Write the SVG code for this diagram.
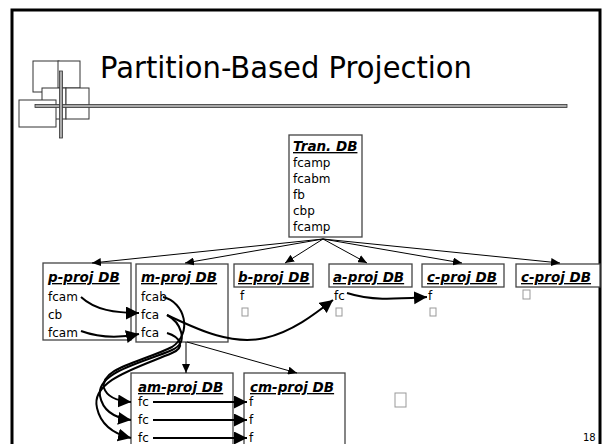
<svg xmlns="http://www.w3.org/2000/svg" width="608" height="444" viewBox="0 0 608 444">
<defs>
<style>
.t{font-family:"DejaVu Sans",Verdana,sans-serif;font-size:12px;fill:#000}
.h{font-family:"DejaVu Sans",Verdana,sans-serif;font-size:13.5px;font-weight:bold;font-style:italic;text-decoration:underline;fill:#000}
.box{fill:#fff;stroke:#444;stroke-width:1.3}
.thin{fill:none;stroke:#000;stroke-width:1}
.thick{fill:none;stroke:#000;stroke-width:2}
.tofu{fill:none;stroke:#999;stroke-width:1}
.sq{fill:#fff;stroke:#333;stroke-width:1}
.bar{fill:#aaa;stroke:#333;stroke-width:0.8}
</style>
<marker id="sa" markerUnits="userSpaceOnUse" markerWidth="10" markerHeight="8" refX="9" refY="4" orient="auto"><path d="M0,0 L9,4 L0,8 z" fill="#000"/></marker>
<marker id="ba" markerUnits="userSpaceOnUse" markerWidth="14" markerHeight="14" refX="13" refY="6.5" orient="auto"><path d="M0,0 L13,6.5 L0,13 z" fill="#000"/></marker>
</defs>
<rect x="0" y="0" width="608" height="444" fill="#fff"/>
<rect x="12" y="10" width="588" height="460" fill="none" stroke="#000" stroke-width="3"/>
<g id="logo">
<rect class="sq" x="33" y="61" width="26" height="31"/>
<rect class="sq" x="58" y="61" width="22" height="27"/>
<rect class="sq" x="42" y="88" width="24" height="31"/>
<rect class="sq" x="66" y="88" width="23" height="31"/>
<rect class="sq" x="19" y="100" width="37" height="27"/>
<rect class="bar" x="35" y="104.5" width="532" height="3"/>
<rect class="bar" x="59.5" y="71" width="3" height="67"/>
</g>
<text x="100" y="78" font-family="DejaVu Sans,Verdana,sans-serif" font-size="30" textLength="372" lengthAdjust="spacingAndGlyphs">Partition-Based Projection</text>
<g id="tran">
<rect class="box" x="289" y="135" width="73" height="102"/>
<text class="h" x="293" y="151">Tran. DB</text>
<text class="t" x="293" y="167">fcamp</text>
<text class="t" x="293" y="183">fcabm</text>
<text class="t" x="293" y="199">fb</text>
<text class="t" x="293" y="215">cbp</text>
<text class="t" x="293" y="231">fcamp</text>
</g>
<g id="pproj">
<rect class="box" x="43" y="263" width="88" height="77"/>
<text class="h" x="48" y="282">p-proj DB</text>
<text class="t" x="48" y="301">fcam</text>
<text class="t" x="48" y="319">cb</text>
<text class="t" x="48" y="337">fcam</text>
</g>
<g id="mproj">
<rect class="box" x="136" y="264" width="92" height="78"/>
<text class="h" x="141" y="282">m-proj DB</text>
<text class="t" x="141" y="301">fcab</text>
<text class="t" x="141" y="319">fca</text>
<text class="t" x="141" y="337">fca</text>
</g>
<g id="bproj">
<rect class="box" x="234" y="264" width="79" height="23"/>
<text class="h" x="238" y="282">b-proj DB</text>
<text class="t" x="240" y="300">f</text>
<rect class="tofu" x="242" y="308" width="6" height="8"/>
</g>
<g id="aproj">
<rect class="box" x="329" y="264" width="83" height="23"/>
<text class="h" x="333" y="282">a-proj DB</text>
<text class="t" x="334" y="300">fc</text>
<rect class="tofu" x="336" y="308" width="6" height="8"/>
</g>
<g id="cproj1">
<rect class="box" x="422" y="264" width="82" height="23"/>
<text class="h" x="427" y="282">c-proj DB</text>
<text class="t" x="428" y="300">f</text>
<rect class="tofu" x="430" y="308" width="6" height="8"/>
</g>
<g id="cproj2">
<rect class="box" x="516" y="264" width="84" height="23"/>
<text class="h" x="521" y="282">c-proj DB</text>
<rect class="tofu" x="523" y="290" width="7" height="9"/>
</g>
<g id="amproj">
<rect class="box" x="131" y="373" width="102" height="80"/>
<text class="h" x="138" y="392">am-proj DB</text>
<text class="t" x="138" y="406">fc</text>
<text class="t" x="138" y="424">fc</text>
<text class="t" x="138" y="442">fc</text>
</g>
<g id="cmproj">
<rect class="box" x="244" y="373" width="101" height="80"/>
<text class="h" x="250" y="392">cm-proj DB</text>
<text class="t" x="249" y="406">f</text>
<text class="t" x="249" y="424">f</text>
<text class="t" x="249" y="442">f</text>
</g>
<rect class="tofu" x="395" y="393" width="11" height="14"/>
<text x="583" y="441" font-family="DejaVu Sans,sans-serif" font-size="10">18</text>
<g id="connectors">
<path class="thin" d="M323,239 L92,263" marker-end="url(#sa)"/>
<path class="thin" d="M323,239 L185,263" marker-end="url(#sa)"/>
<path class="thin" d="M323,239 L285,263" marker-end="url(#sa)"/>
<path class="thin" d="M323,239 L367,263" marker-end="url(#sa)"/>
<path class="thin" d="M323,239 L462,263" marker-end="url(#sa)"/>
<path class="thin" d="M323,239 L560,263" marker-end="url(#sa)"/>
<path class="thin" d="M186,342 L186,373" marker-end="url(#sa)"/>
<path class="thin" d="M187,342 L297,373" marker-end="url(#sa)"/>
<path class="thick" d="M81,297 C95,310 115,313 139,313" marker-end="url(#ba)"/>
<path class="thick" d="M81,331 C100,338 120,338 139,334" marker-end="url(#ba)"/>
<path class="thick" d="M163,297 C185,302 193,333 172,347 C142,362 100,368 104,388 C107,397 118,401 131,402" marker-end="url(#ba)"/>
<path class="thick" d="M167,315 C180,322 190,342 172,350 C142,363 96,372 100,396 C103,412 115,418 131,420" marker-end="url(#ba)"/>
<path class="thick" d="M167,333 C180,337 186,347 172,353 C140,367 90,380 97,408 C101,426 114,434 131,438" marker-end="url(#ba)"/>
<path class="thick" d="M167,315 C195,328 230,346 265,338 C292,332 315,314 333,300" marker-end="url(#ba)"/>
<path class="thick" d="M347,293 C372,301 395,299 427,297" marker-end="url(#ba)"/>
<path class="thick" d="M153,402 L247,402" marker-end="url(#ba)"/>
<path class="thick" d="M153,420 L247,420" marker-end="url(#ba)"/>
<path class="thick" d="M153,438 L247,438" marker-end="url(#ba)"/>
</g>
</svg>
